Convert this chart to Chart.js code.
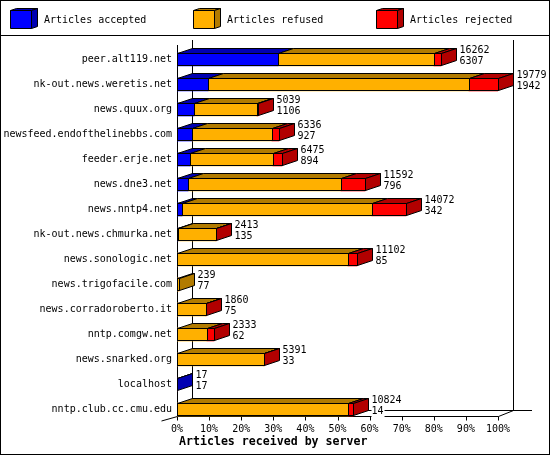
<!DOCTYPE html>
<html>
<head>
<meta charset="utf-8">
<title>Articles received by server</title>
<script src="https://cdn.jsdelivr.net/npm/chart.js@4/dist/chart.umd.min.js"></script>
<style>
    html, body { margin: 0; padding: 0; background: #fff; }
    canvas { display: block; }
</style>
</head>
<body>
<canvas id="mainChart" width="550" height="455"></canvas>
<script>
// Chart data
const servers = ['peer.alt119.net', 'nk-out.news.weretis.net', 'news.quux.org',
    'newsfeed.endofthelinebbs.com', 'feeder.erje.net', 'news.dne3.net', 'news.nntp4.net',
    'nk-out.news.chmurka.net', 'news.sonologic.net', 'news.trigofacile.com',
    'news.corradoroberto.it', 'nntp.comgw.net', 'news.snarked.org', 'localhost',
    'nntp.club.cc.cmu.edu'];
const accepted = [31.5, 9.7, 5.4, 4.6, 4.2, 3.5, 1.5, 0.4, 0, 0, 0, 0, 0, 0.1, 0];
const refused = [48.5, 81.3, 19.4, 25.1, 25.8, 47.7, 59.3, 11.6, 53.4, 0.6, 9, 9.4, 27, 0, 53.4];
const rejected = [2.2, 9, 0.5, 2.2, 2.6, 7.3, 10.4, 0.1, 2.6, 0, 0.1, 2.1, 0.1, 0, 1.3];
const upperLabels = [16262, 19779, 5039, 6336, 6475, 11592, 14072, 2413, 11102, 239, 1860, 2333, 5391, 17, 10824];
const lowerLabels = [6307, 1942, 1106, 927, 894, 796, 342, 135, 85, 77, 75, 62, 33, 17, 14];
const seriesNames = ['Articles accepted', 'Articles refused', 'Articles rejected'];
const xTitle = 'Articles received by server';

const frontColors = ['#0000ff', '#ffb000', '#ff0000'];
const darkColors = ['#0000b2', '#b27b00', '#b20000'];
const legendX = [10, 193, 376];

const DEPTH_X = 15;
const DEPTH_Y = 5;
const FONT = '10px "DejaVu Sans Mono"';
const FLOOR_Y = 416.5;   // front floor line, the bars sit on it

function line(ctx, x1, y1, x2, y2) {
    ctx.beginPath();
    ctx.moveTo(x1, y1);
    ctx.lineTo(x2, y2);
    ctx.stroke();
}

function polygon(ctx, points, fill) {
    ctx.beginPath();
    points.forEach((p, i) => i ? ctx.lineTo(p[0], p[1]) : ctx.moveTo(p[0], p[1]));
    ctx.closePath();
    ctx.fillStyle = fill;
    ctx.fill();
    ctx.stroke();
}

// Outer frame, legend strip and the box walls behind the bars
function drawBackdrop(chart) {
    const ctx = chart.ctx;
    const x = chart.scales.x;
    const left = x.getPixelForValue(0) + 0.5;
    const right = x.getPixelForValue(100) + 0.5;

    ctx.save();
    ctx.strokeStyle = '#000';
    ctx.lineWidth = 1;
    ctx.strokeRect(0.5, 0.5, 549, 454);
    line(ctx, 0, 35.5, 550, 35.5);

    // Legend boxes
    seriesNames.forEach((name, i) => {
        const bx = legendX[i] + 0.5;
        polygon(ctx, [[bx, 10.5], [bx + 6, 8.5], [bx + 27, 8.5], [bx + 21, 10.5]], darkColors[i]);
        polygon(ctx, [[bx + 21, 10.5], [bx + 27, 8.5], [bx + 27, 26.5], [bx + 21, 28.5]], darkColors[i]);
        polygon(ctx, [[bx, 10.5], [bx + 21, 10.5], [bx + 21, 28.5], [bx, 28.5]], frontColors[i]);
        ctx.fillStyle = '#000';
        ctx.font = FONT;
        ctx.textAlign = 'left';
        ctx.textBaseline = 'middle';
        ctx.fillText(name, legendX[i] + 34, 20);
    });

    // Walls and floor
    line(ctx, left, 45, left, FLOOR_Y);
    line(ctx, left + DEPTH_X, 40, left + DEPTH_X, FLOOR_Y - DEPTH_Y - 1);
    line(ctx, right + DEPTH_X, 40, right + DEPTH_X, FLOOR_Y - DEPTH_Y - 1);
    line(ctx, left, FLOOR_Y, right, FLOOR_Y);
    line(ctx, left + DEPTH_X, FLOOR_Y - 6, 532, FLOOR_Y - 6);
    line(ctx, left - 16, 421, left, FLOOR_Y);
    line(ctx, right, FLOOR_Y, right + DEPTH_X, FLOOR_Y - 6);

    // Tick marks on the library's tick positions
    x.ticks.forEach((tick, i) => {
        const tx = Math.round(x.getPixelForTick(i)) + 0.5;
        line(ctx, tx, FLOOR_Y, tx, FLOOR_Y + 4);
    });

    // Axis title
    ctx.fillStyle = '#000';
    ctx.font = 'bold 11.6px "DejaVu Sans Mono"';
    ctx.textAlign = 'left';
    ctx.textBaseline = 'middle';
    ctx.fillText(xTitle, 179, 441.5);
    ctx.restore();
}

// Snap the bar elements to whole pixels so the outlines stay sharp
function snapBars(chart) {
    chart.data.datasets.forEach((ds, d) => {
        chart.getDatasetMeta(d).data.forEach(bar => {
            bar.x = Math.round(bar.x);
            bar.base = Math.round(bar.base);
        });
    });
}

// Outlines, top faces, end face and value labels
function drawFaces(chart) {
    const ctx = chart.ctx;
    ctx.save();
    ctx.strokeStyle = '#000';
    ctx.lineWidth = 1;

    servers.forEach((name, i) => {
        let last = 0;
        chart.data.datasets.forEach((ds, d) => {
            if (ds.data[i] > 0) last = d;
        });
        const first = chart.getDatasetMeta(0).data[i];
        const top = first.y - first.height / 2 + 0.5;
        const bottom = first.y + first.height / 2 - 0.5;
        const end = chart.getDatasetMeta(last).data[i].x + 0.5;

        chart.data.datasets.forEach((ds, d) => {
            if (!(ds.data[i] > 0)) return;
            const bar = chart.getDatasetMeta(d).data[i];
            const x0 = bar.base + 0.5;
            const x1 = bar.x + 0.5;
            polygon(ctx, [[x0, top], [x1, top], [x1 + DEPTH_X, top - DEPTH_Y], [x0 + DEPTH_X, top - DEPTH_Y]], darkColors[d]);
            ctx.strokeRect(x0, top, x1 - x0, bottom - top);
        });

        polygon(ctx, [[end, top], [end + DEPTH_X, top - DEPTH_Y], [end + DEPTH_X, bottom - DEPTH_Y], [end, bottom]], darkColors[last]);

        // Labels sit on a white box, they hide the floor line on the last row
        const labelX = end + DEPTH_X + 3;
        const lower = String(lowerLabels[i]);
        ctx.font = FONT;
        ctx.textAlign = 'left';
        ctx.textBaseline = 'middle';
        ctx.fillStyle = '#fff';
        ctx.fillRect(labelX, first.y - 3, ctx.measureText(lower).width + 1, 11);
        ctx.fillStyle = '#000';
        ctx.fillText(String(upperLabels[i]), labelX, first.y - 9);
        ctx.fillText(lower, labelX, first.y + 2);
    });
    ctx.restore();
}

const boxPlugin = {
    id: 'box3d',
    beforeDatasetsDraw(chart) {
        drawBackdrop(chart);
        snapBars(chart);
    },
    afterDatasetsDraw(chart) {
        drawFaces(chart);
    }
};

new Chart(document.getElementById('mainChart').getContext('2d'), {
    type: 'bar',
    data: {
        labels: servers,
        datasets: [
            { label: seriesNames[0], data: accepted, backgroundColor: frontColors[0] },
            { label: seriesNames[1], data: refused, backgroundColor: frontColors[1] },
            { label: seriesNames[2], data: rejected, backgroundColor: frontColors[2] }
        ]
    },
    options: {
        indexAxis: 'y',
        responsive: false,
        animation: false,
        events: [],
        barThickness: 13,
        borderWidth: 0,
        layout: { padding: { top: 47, right: 52, left: 0, bottom: 0 } },
        plugins: {
            legend: { display: false },
            title: { display: false },
            tooltip: { enabled: false }
        },
        scales: {
            x: {
                stacked: true,
                min: 0,
                max: 100,
                grid: { display: false, drawTicks: false },
                border: { display: false },
                ticks: {
                    stepSize: 10,
                    autoSkip: false,
                    maxRotation: 0,
                    padding: 1,
                    color: '#000',
                    font: { family: 'DejaVu Sans Mono', size: 10 },
                    callback: value => value + '%'
                },
                afterFit(scale) { scale.height = 33; }
            },
            y: {
                stacked: true,
                grid: { display: false, drawTicks: false },
                border: { display: false },
                ticks: {
                    autoSkip: false,
                    padding: 5,
                    color: '#000',
                    font: { family: 'DejaVu Sans Mono', size: 10 }
                },
                afterFit(scale) { scale.width = 177; }
            }
        }
    },
    plugins: [boxPlugin]
});
</script>
</body>
</html>
